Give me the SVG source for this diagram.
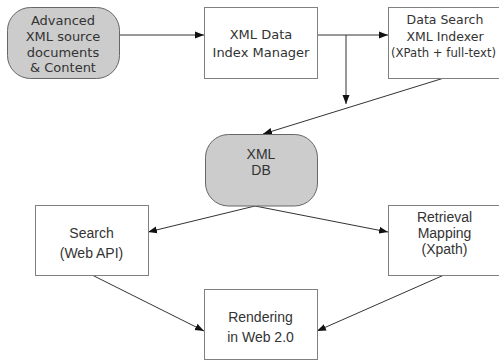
<svg xmlns="http://www.w3.org/2000/svg" width="499" height="360" viewBox="0 0 499 360">
<defs>
<marker id="arr" markerWidth="10" markerHeight="8" refX="9" refY="4" orient="auto" markerUnits="userSpaceOnUse">
<path d="M0,0.5 L9,4 L0,7.5 Z" fill="#111"/>
</marker>
<style>
.box{fill:#fff;stroke:#808080;stroke-width:1}
.rnd{fill:#cccccc;stroke:#666;stroke-width:1}
.t1{font-family:"DejaVu Sans",sans-serif;font-size:13px;fill:#333;text-anchor:middle}
.t2{font-family:"DejaVu Sans",sans-serif;font-size:12.5px;fill:#333;text-anchor:middle}
.t3{font-family:"Liberation Sans",Arial,sans-serif;font-size:14px;fill:#333;text-anchor:middle}
.c{fill:none;stroke:#333;stroke-width:1;marker-end:url(#arr)}
</style>
</defs>
<rect width="499" height="360" fill="#fff"/>
<g id="connectors">
<path class="c" d="M119,35 L204,35"/>
<path class="c" d="M318,35 L388,35"/>
<path class="c" d="M346,35 L346,104"/>
<path class="c" d="M444,78 L263,134"/>
<path class="c" d="M255,206 L148,232"/>
<path class="c" d="M255,206 L388,232"/>
<path class="c" d="M92,275 L204,331"/>
<path class="c" d="M444,275 L317,331"/>
</g>
<g id="advanced">
<rect class="rnd" x="7.5" y="7.5" width="112" height="71" rx="23" ry="23"/>
<text class="t1" x="63" y="25">Advanced</text>
<text class="t1" x="63" y="40.8">XML source</text>
<text class="t1" x="63" y="56.6">documents</text>
<text class="t1" x="63" y="72.4">&amp; Content</text>
</g>
<g id="indexmanager">
<rect class="box" x="204.5" y="7.5" width="113" height="71"/>
<text class="t1" x="261" y="39">XML Data</text>
<text class="t1" x="261" y="57">Index Manager</text>
</g>
<g id="datasearch">
<rect class="box" x="388.5" y="7.5" width="114" height="71"/>
<text class="t2" x="445" y="24">Data Search</text>
<text class="t2" x="445" y="40.5">XML Indexer</text>
<text class="t2" x="391" y="57" style="text-anchor:start" textLength="105" lengthAdjust="spacingAndGlyphs">(XPath + full-text)</text>
</g>
<g id="xmldb">
<rect class="rnd" x="205.5" y="134.5" width="112" height="71.5" rx="23" ry="23"/>
<text class="t3" x="261" y="159">XML</text>
<text class="t3" x="261" y="175">DB</text>
</g>
<g id="search">
<rect class="box" x="35.5" y="205.5" width="113" height="70"/>
<text class="t3" x="91.5" y="238">Search</text>
<text class="t3" x="91.5" y="257.5">(Web API)</text>
</g>
<g id="retrieval">
<rect class="box" x="388.5" y="205.5" width="113" height="70"/>
<text class="t3" x="444.5" y="222">Retrieval</text>
<text class="t3" x="444.5" y="238">Mapping</text>
<text class="t3" x="444.5" y="254">(Xpath)</text>
</g>
<g id="rendering">
<rect class="box" x="204.5" y="289.5" width="113" height="70"/>
<text class="t3" x="260.5" y="322">Rendering</text>
<text class="t3" x="260.5" y="342">in Web 2.0</text>
</g>
</svg>
